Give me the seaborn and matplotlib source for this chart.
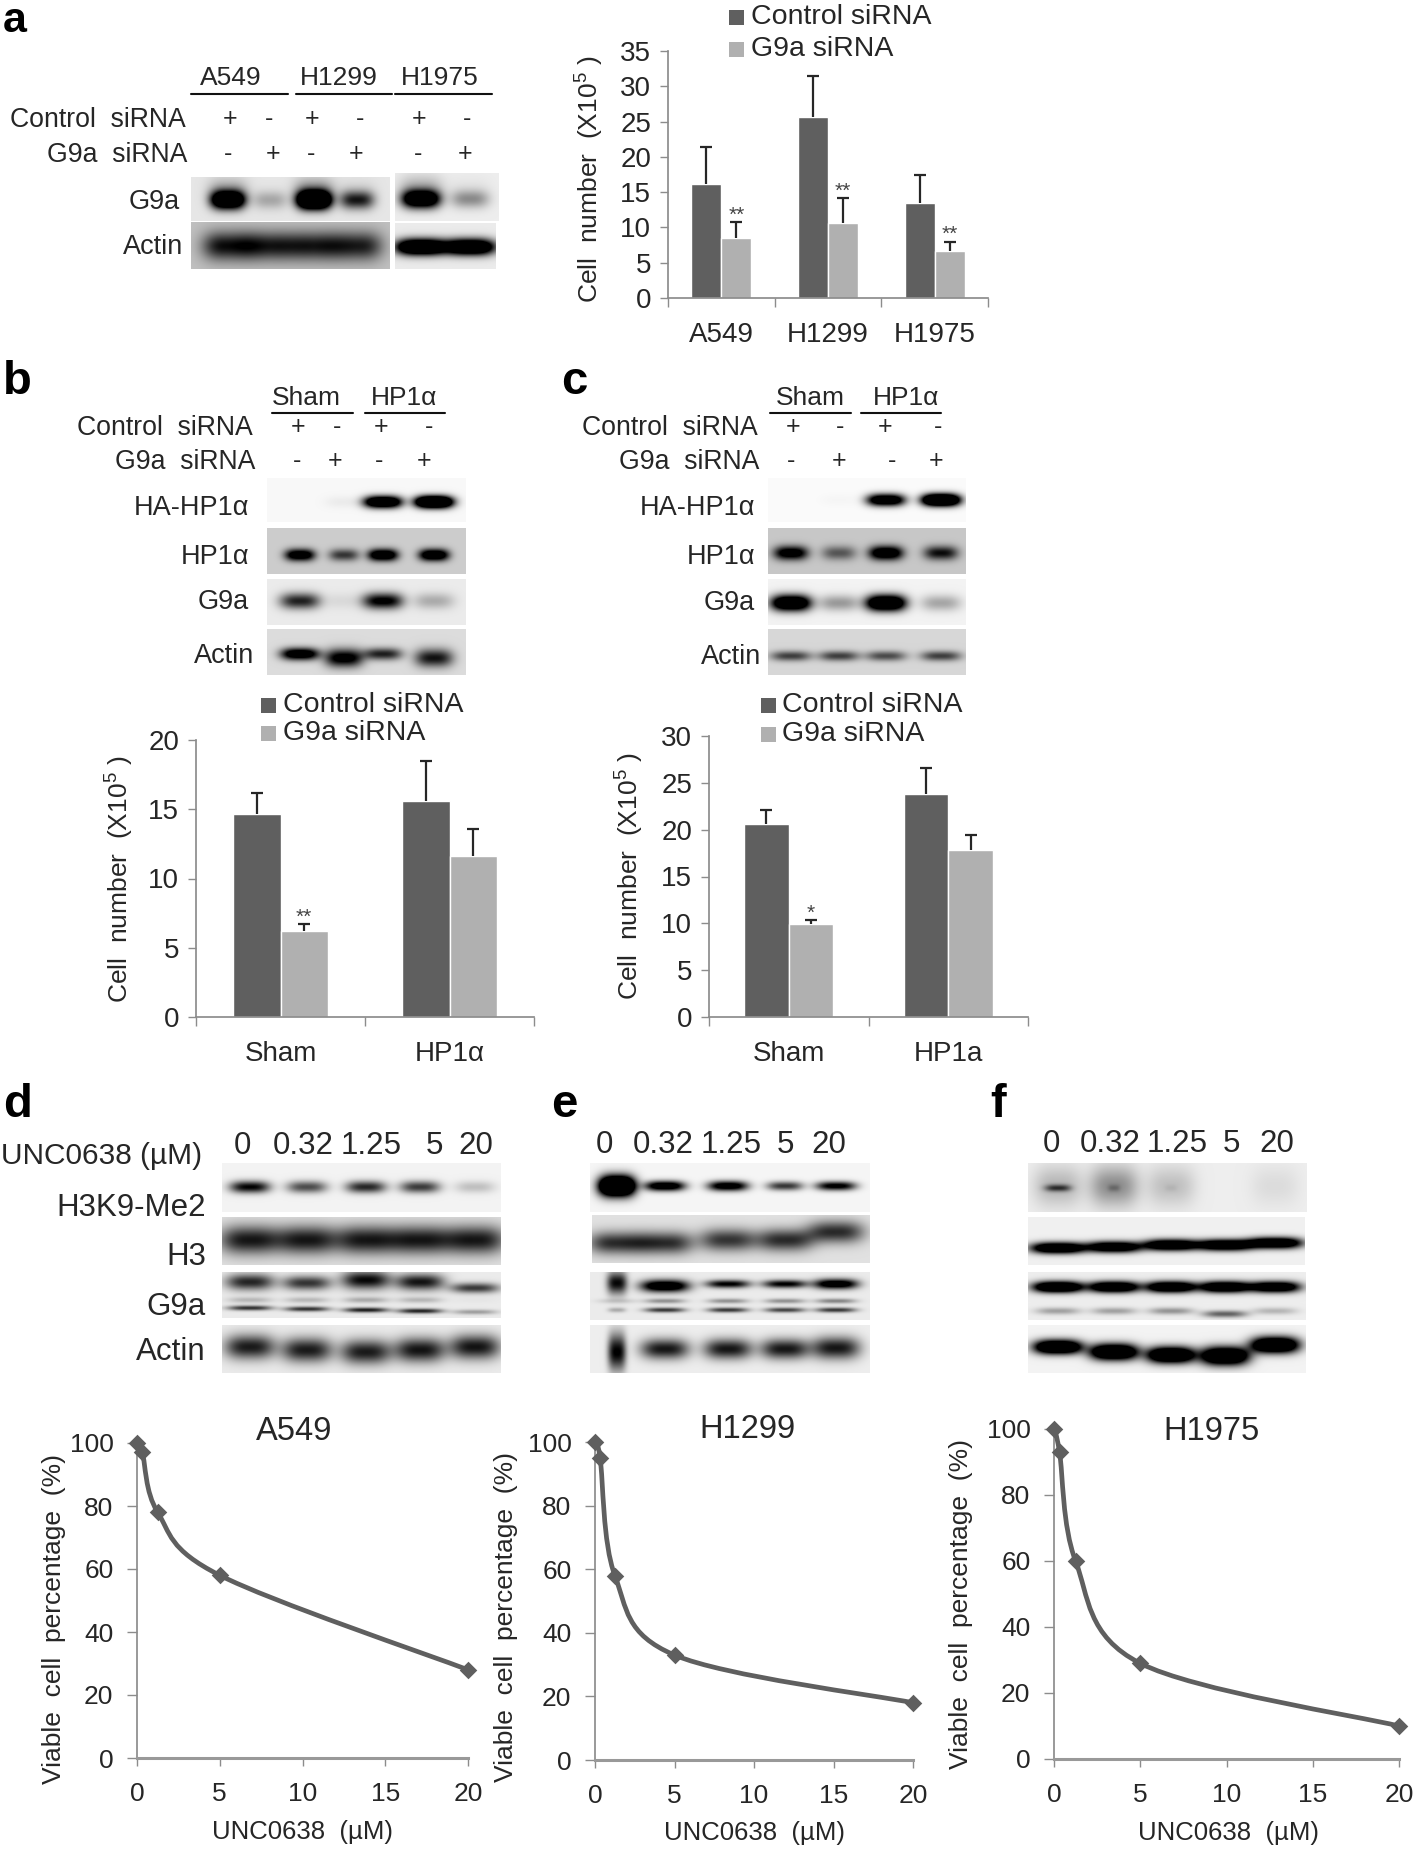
import numpy as np
import pandas as pd
import matplotlib
matplotlib.use("Agg")
import matplotlib.pyplot as plt
import matplotlib.transforms as mtransforms
from matplotlib.patches import Rectangle, PathPatch
from matplotlib.path import Path
import seaborn as sns

W, H = 1418, 1850
DARK, LIGHT, AXIS, INK = "#5f5f5f", "#b0b0b0", "#8c8c8c", "#262626"

sns.set_theme(style="ticks", rc={"mathtext.default": "regular"})
plt.rcParams["font.family"] = ["Liberation Sans", "DejaVu Sans"]

# --- bar chart values ---
treatments = ["Control siRNA", "G9a siRNA"]

a_lines = ["A549", "H1299", "H1975"]
a_control = [16.2, 25.6, 13.4]
a_g9a = [8.5, 10.6, 6.7]
a_control_err = [5.2, 5.8, 4.0]
a_g9a_err = [2.3, 3.5, 1.3]
a_stars = ["", "", "", "**", "**", "**"]

b_groups = ["Sham", "HP1α"]
b_control = [14.65, 15.6]
b_g9a = [6.2, 11.65]
b_control_err = [1.55, 2.9]
b_g9a_err = [0.5, 1.9]
b_stars = ["", "", "**", ""]

c_groups = ["Sham", "HP1a"]
c_control = [20.6, 23.8]
c_g9a = [9.9, 17.8]
c_control_err = [1.5, 2.8]
c_g9a_err = [0.5, 1.6]
c_stars = ["", "", "*", ""]

# --- dose response values ---
doses = [0, 0.32, 1.25, 5, 20]
d_viable = [100, 97, 78, 58, 28]
e_viable = [100, 95, 58, 33, 18]
f_viable = [100, 93, 60, 29, 10]
dose_labels = ["0", "0.32", "1.25", "5", "20"]

# --- blot band darkness per lane ---
a_lanes_left = [228, 270, 314, 357]
a_lanes_right = [421, 470]
a_g9a_left = [1.7, 0.25, 2.2, 0.8]
a_g9a_left_smear = [0.22, 0.0, 0.3, 0.05]
a_g9a_right = [1.6, 0.38]
a_g9a_right_smear = [0.2, 0.03]
a_actin_left = [0.72, 0.68, 0.68, 0.66]
a_actin_right = [1.8, 1.7]

b_lanes = [300, 344, 383, 434]
b_ha = [0.0, 0.05, 1.7, 2.2]
b_hp1 = [1.1, 0.6, 1.2, 1.2]
b_g9 = [0.8, 0.07, 1.0, 0.25]
b_actin = [1.2, 1.0, 0.75, 0.8]

c_lanes = [791, 839, 886, 941]
c_ha = [0.0, 0.02, 1.5, 2.2]
c_hp1 = [1.0, 0.45, 1.15, 0.75]
c_g9 = [1.6, 0.35, 1.7, 0.3]
c_actin = [0.6, 0.6, 0.55, 0.6]

d_lanes = [250, 307, 366, 420, 475]
d_h3k9 = [0.95, 0.65, 0.8, 0.72, 0.2]
d_h3 = [0.8, 0.8, 0.8, 0.8, 0.8]
d_g9_top = [0.78, 0.72, 0.9, 0.85, 0.7]
d_g9_mid = [0.2, 0.2, 0.25, 0.2, 0.02]
d_g9_low = [0.72, 0.72, 0.8, 0.78, 0.3]
d_actin = [0.82, 0.82, 0.82, 0.85, 0.85]

e_lanes = [617, 665, 728, 785, 836]
e_h3k9 = [2.4, 1.3, 1.2, 0.75, 1.05]
e_h3 = [0.72, 0.72, 0.68, 0.72, 0.72]
e_g9_top = [0.9, 1.3, 0.95, 0.95, 1.2]
e_g9_mid = [0.12, 0.35, 0.35, 0.35, 0.4]
e_g9_low = [0.25, 0.7, 0.7, 0.65, 0.7]
e_actin = [0.95, 0.85, 0.85, 0.85, 0.85]

f_lanes = [1058, 1114, 1171, 1225, 1275]
f_h3k9 = [0.55, 0.15, 0.05, 0.0, 0.0]
f_h3k9_smear = [0.22, 0.38, 0.18, 0.0, 0.07]
f_h3 = [1.6, 1.5, 1.6, 1.6, 1.6]
f_g9_top = [1.7, 1.6, 1.6, 1.6, 1.5]
f_g9_low = [0.3, 0.3, 0.35, 0.55, 0.22]
f_actin = [1.8, 1.8, 1.8, 1.8, 1.8]

fig = plt.figure(figsize=(W / 100, H / 100), dpi=100, facecolor="white")
px = mtransforms.Affine2D().scale(1 / W, -1 / H).translate(0, 1) + fig.transFigure


def put(x, y, s, ha="center", size=20, **kw):
    kw.setdefault("color", INK)
    kw.setdefault("va", "center")
    fig.text(x, y, s, ha=ha, fontsize=size, transform=px, **kw)


def box_axes(x0, y0, x1, y1):
    return fig.add_axes([x0 / W, 1 - y1 / H, (x1 - x0) / W, (y1 - y0) / H])


def blot(x0, y0, x1, y1, bg, bands):
    # one blot strip: each band is (lanes, darkness, y, half width, half height)
    ax = box_axes(x0, y0, x1, y1)
    xs = np.arange(x0, x1) + 0.5
    ys = np.arange(y0, y1) + 0.5
    gx, gy = np.meshgrid(xs, ys)
    dark = np.full(gx.shape, float(bg))
    for band in bands:
        for lane, s, yc, hw, hh in zip(*np.broadcast_arrays(*band)):
            dark += s * np.exp(-np.abs((gx - lane) / hw) ** 3 - ((gy - yc) / hh) ** 2)
    sns.heatmap(1 - np.clip(dark, 0, 1), ax=ax, cmap="gray", vmin=0, vmax=1, cbar=False,
                xticklabels=False, yticklabels=False, rasterized=True)


def bar_panel(box, groups, control, g9a, control_err, g9a_err, stars, ymax, step, ylabel_xy, star_size=15):
    ax = box_axes(*box)
    df = pd.DataFrame({
        "group": list(groups) * 2,
        "treatment": [treatments[0]] * len(groups) + [treatments[1]] * len(groups),
        "value": list(control) + list(g9a),
    })
    sns.barplot(data=df, x="group", y="value", hue="treatment", palette=[DARK, LIGHT], width=0.56,
                gap=0, errorbar=None, saturation=1, legend=False, ax=ax)
    i = 0
    for cont, vals, errs in zip(ax.containers, (control, g9a), (control_err, g9a_err)):
        for rect, v, e in zip(cont, vals, errs):
            xc = rect.get_x() + rect.get_width() / 2
            eb = ax.errorbar(xc, v, yerr=[[0], [e]], color=INK, lw=1.6, capsize=4.5, capthick=1.6)
            eb[1][0].set_visible(False)
            if stars[i]:
                ax.annotate(stars[i], (xc, v + e), xytext=(0, -2), textcoords="offset points",
                            ha="center", va="bottom", fontsize=star_size, color="#444444")
            i += 1
    n = len(groups)
    ax.set_xlim(-0.5, n - 0.5)
    ax.set_ylim(0, ymax)
    ax.set_yticks(np.arange(0, ymax + 1, step))
    ax.set_xticks(np.arange(n + 1) - 0.5)
    ax.set_xticklabels([])
    ax.set_xticks(np.arange(n), minor=True)
    ax.set_xticklabels(groups, minor=True)
    ax.tick_params(axis="x", which="major", length=6.5, width=1, color=AXIS)
    ax.tick_params(axis="x", which="minor", length=0, pad=17, labelsize=20, labelcolor=INK)
    ax.tick_params(axis="y", length=6, width=1, color=AXIS, labelsize=20, labelcolor=INK, pad=6)
    ax.set_xlabel("")
    ax.set_ylabel("")
    sns.despine(ax=ax)
    ax.spines["left"].set_color(AXIS)
    ax.spines["bottom"].set_color(AXIS)
    put(ylabel_xy[0], ylabel_xy[1], "Cell  number  (X10$^{5}$ )", rotation=90, size=19)


def legend_block(x_sq, x_txt, ys, sq):
    for label, color, y in zip(treatments, (DARK, LIGHT), ys):
        fig.add_artist(Rectangle((x_sq, y - sq / 2), sq, sq, transform=px, color=color, lw=0))
        put(x_txt, y, label, ha="left", size=20.5)


def dose_panel(box, viable, title_xy, ylabel_xy, xlabel_xy):
    ax = box_axes(*box)
    df = pd.DataFrame({"dose": doses, "viable": viable})
    sns.scatterplot(data=df, x="dose", y="viable", marker="D", s=80, color=DARK, linewidth=0,
                    clip_on=False, zorder=5, ax=ax)
    ax.set_xlim(0, 20)
    ax.set_ylim(0, 100)
    # smoothed line through the points, drawn as bezier segments
    pts = df.to_numpy(dtype=float)
    ext = np.vstack([pts[0], pts, pts[-1]])
    verts, codes = [pts[0]], [Path.MOVETO]
    for k in range(1, len(ext) - 2):
        verts += [ext[k] + (ext[k + 1] - ext[k - 1]) / 6, ext[k + 1] - (ext[k + 2] - ext[k]) / 6, ext[k + 1]]
        codes += [Path.CURVE4] * 3
    ax.add_patch(PathPatch(Path(verts, codes), fc="none", ec=DARK, lw=3.4, clip_on=False, zorder=4))
    ax.set_xticks([0, 5, 10, 15, 20])
    ax.set_yticks([0, 20, 40, 60, 80, 100])
    ax.tick_params(axis="x", length=6, width=1, color=AXIS, labelsize=19, labelcolor=INK, pad=11)
    ax.tick_params(axis="y", length=7, width=1, color=AXIS, labelsize=19, labelcolor=INK, pad=10)
    ax.set_xlabel("")
    ax.set_ylabel("")
    sns.despine(ax=ax)
    ax.spines["left"].set_color(AXIS)
    ax.spines["bottom"].set_color("#999999")
    ax.spines["bottom"].set_linewidth(2.2)
    put(title_xy[0], title_xy[1], title_xy[2], size=23.5)
    put(ylabel_xy[0], ylabel_xy[1], "Viable  cell  percentage  (%)", rotation=90, size=19)
    put(xlabel_xy[0], xlabel_xy[1], "UNC0638  (µM)", size=18.5)


def rule(x0, x1, y):
    fig.add_artist(plt.Line2D([x0, x1], [y, y], transform=px, color="#111111", lw=1.5))


# panel letters
for letter, x, y, size in [("a", 3, 32, 31), ("b", 3, 394, 34), ("c", 561, 394, 34),
                           ("d", 3, 1117, 34), ("e", 551, 1117, 34), ("f", 990, 1117, 34)]:
    put(x, y, letter, ha="left", size=size, weight="bold", color="black", va="baseline")

# --- panel a ---
for name, xc, (x0, x1) in zip(a_lines, [231, 339, 440], [(191, 288), (296, 392), (395, 492)]):
    put(xc, 78, name, size=19)
    rule(x0, x1, 94)
put(186, 120, "Control  siRNA", ha="right", size=19.2)
put(187, 155, "G9a  siRNA", ha="right", size=19.2)
for x, s in zip([230, 269, 312, 360, 419, 467], "+-+-+-"):
    put(x, 119, s, size=18)
for x, s in zip([228, 273, 311, 356, 418, 465], "-+-+-+"):
    put(x, 154, s, size=18)
put(180, 202, "G9a", ha="right", size=19.5)
put(183, 247, "Actin", ha="right", size=19.5)
blot(191, 177, 390, 221, 0.1, [(a_lanes_left, a_g9a_left, 200, 17, 9), (a_lanes_left, a_g9a_left_smear, 190, 20, 13)])
blot(395, 173, 499, 221, 0.07, [(a_lanes_right, a_g9a_right, 199, 19, 9), (a_lanes_right, a_g9a_right_smear, 186, 22, 12)])
blot(191, 222, 390, 269, 0.25, [(a_lanes_left, a_actin_left, 246, 25, 14)])
blot(395, 223, 496, 269, 0.08, [(a_lanes_right, a_actin_right, 247, 25, 8)])
legend_block(729, 751, [17, 49], 15)
bar_panel((668, 51, 988, 298), a_lines, a_control, a_g9a, a_control_err, a_g9a_err, a_stars, 35, 5, (590, 179))

# --- panel b ---
for name, xc, (x0, x1) in zip(["Sham", "HP1α"], [306, 404], [(272, 353), (365, 445)]):
    put(xc, 398, name, size=19)
    rule(x0, x1, 413)
put(253, 428, "Control  siRNA", ha="right", size=19.2)
put(255, 462, "G9a  siRNA", ha="right", size=19.2)
for x, s in zip([298, 337, 381, 429], "+-+-"):
    put(x, 427, s, size=18)
for x, s in zip([297, 335, 379, 424], "-+-+"):
    put(x, 461, s, size=18)
for label, y in [("HA-HP1α", 508), ("HP1α", 557), ("G9a", 602), ("Actin", 656)]:
    put(254 if label == "Actin" else 249, y, label, ha="right", size=19.5)
blot(267, 478, 466, 522, 0.03, [(b_lanes, b_ha, 502, 19, 6)])
blot(267, 528, 466, 574, 0.2, [(b_lanes, b_hp1, 555, 15, 6)])
blot(267, 579, 466, 625, 0.08, [(b_lanes, b_g9, 601, 20, 8)])
blot(267, 629, 466, 675, 0.14, [(b_lanes, b_actin, [654, 658, 654, 658], 19, [6, 9, 6, 9])])
legend_block(261, 283, [705, 733], 15)
bar_panel((196, 740, 534, 1017), b_groups, b_control, b_g9a, b_control_err, b_g9a_err, b_stars, 20, 5, (120, 879))

# --- panel c ---
for name, xc, (x0, x1) in zip(["Sham", "HP1α"], [810, 906], [(770, 851), (861, 941)]):
    put(xc, 398, name, size=19)
    rule(x0, x1, 413)
put(758, 428, "Control  siRNA", ha="right", size=19.2)
put(759, 462, "G9a  siRNA", ha="right", size=19.2)
for x, s in zip([793, 840, 885, 938], "+-+-"):
    put(x, 427, s, size=18)
for x, s in zip([791, 839, 892, 936], "-+-+"):
    put(x, 461, s, size=18)
for label, y in [("HA-HP1α", 508), ("HP1α", 557), ("G9a", 603), ("Actin", 657)]:
    put(761 if label == "Actin" else 755, y, label, ha="right", size=19.5)
blot(768, 478, 966, 522, 0.02, [(c_lanes, c_ha, 500, 19, 6)])
blot(768, 528, 966, 574, 0.22, [(c_lanes, c_hp1, 553, 17, 7)])
blot(768, 579, 966, 625, 0.05, [(c_lanes, c_g9, 603, 20, 8)])
blot(768, 629, 966, 675, 0.16, [(c_lanes, c_actin, 656, 20, 5)])
legend_block(761, 782, [705, 734], 15)
bar_panel((709, 736, 1028, 1017), c_groups, c_control, c_g9a, c_control_err, c_g9a_err, c_stars, 30, 5, (630, 876))

# --- panels d, e, f blots ---
put(1, 1156, "UNC0638 (µM)", ha="left", size=21.5)
for xs, y in [([242, 303, 371, 434, 476], 1146), ([604, 663, 731, 785, 829], 1145), ([1051, 1110, 1177, 1231, 1277], 1144)]:
    for x, s in zip(xs, dose_labels):
        put(x, y, s, size=22.5)
for label, y in [("H3K9-Me2", 1208), ("H3", 1257), ("G9a", 1307), ("Actin", 1352)]:
    put(206, y, label, ha="right", size=22.5)

blot(222, 1163, 501, 1212, 0.05, [(d_lanes, d_h3k9, 1187, 20, 6)])
blot(222, 1217, 501, 1265, 0.12, [(d_lanes, d_h3, 1240, 30, 14)])
blot(222, 1272, 501, 1318, 0.08, [(d_lanes, d_g9_top, [1282, 1283, 1280, 1282, 1288], 24, [8, 7, 9, 8, 5]),
                                  (d_lanes, d_g9_mid, 1300, 22, 3),
                                  (d_lanes, d_g9_low, [1308, 1309, 1310, 1311, 1312], 22, 2.5)])
blot(222, 1325, 501, 1373, 0.08, [(d_lanes, d_actin, [1347, 1350, 1352, 1350, 1347], 25, 12)])

blot(590, 1163, 870, 1212, 0.04, [(e_lanes, e_h3k9, 1186, [18, 20, 20, 18, 20], [10, 5, 5, 4.5, 4.5])])
blot(592, 1215, 870, 1263, 0.12, [(e_lanes, e_h3, [1243, 1243, 1240, 1240, 1232], 28, 11)])
blot(590, 1272, 870, 1320, 0.08, [(e_lanes, e_g9_top, [1283, 1286, 1284, 1284, 1284], [10, 24, 22, 22, 22], [11, 6, 4, 4, 5]),
                                  (e_lanes, e_g9_mid, 1301, 20, 2.5),
                                  (e_lanes, e_g9_low, 1310, [9, 20, 20, 20, 20], 2.5)])
blot(590, 1325, 870, 1373, 0.07, [(e_lanes, e_actin, [1352, 1349, 1349, 1349, 1348], [9, 24, 24, 24, 24], [18, 10, 10, 10, 11])])

blot(1028, 1163, 1307, 1212, 0.07, [(f_lanes, f_h3k9, 1188, [13, 6, 6, 6, 6], 3.5),
                                    (f_lanes, f_h3k9_smear, 1186, 24, 20)])
blot(1028, 1217, 1305, 1265, 0.06, [(f_lanes, f_h3, [1248, 1247, 1245, 1245, 1243], 27, 5.5)])
blot(1028, 1272, 1306, 1320, 0.07, [(f_lanes, f_g9_top, 1287, 25, 5.5), (f_lanes, f_g9_low, [1311, 1311, 1311, 1314, 1311], 22, 3.5)])
blot(1028, 1325, 1306, 1373, 0.05, [(f_lanes, f_actin, [1347, 1352, 1355, 1356, 1345], 24, [7, 8, 8, 9, 8])])

# --- dose response charts ---
dose_panel((137, 1443, 468, 1758), d_viable, (294, 1432, "A549"), (54, 1619), (303, 1832))
dose_panel((595, 1442, 913, 1760), e_viable, (747, 1430, "H1299"), (506, 1617), (755, 1833))
dose_panel((1054, 1429, 1399, 1759), f_viable, (1212, 1432, "H1975"), (961, 1604), (1228, 1833))

fig.savefig("out.png", dpi=100, facecolor="white")
